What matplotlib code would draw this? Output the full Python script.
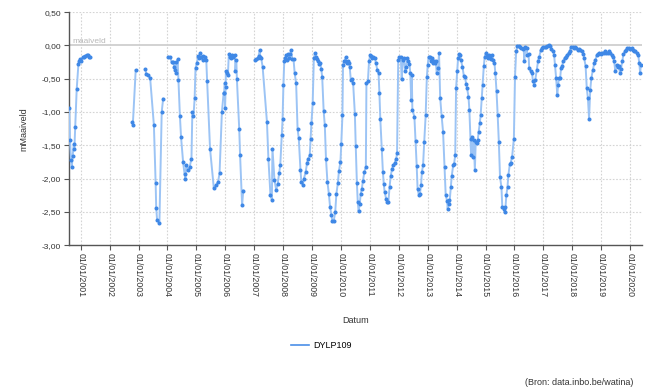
import numpy as np
import pandas as pd
import matplotlib
matplotlib.use("Agg")
import matplotlib.pyplot as plt
from matplotlib.lines import Line2D

plt.rcParams['font.family'] = ['Liberation Sans', 'DejaVu Sans']

series_name = "DYLP109"
source_text = "(Bron: data.inbo.be/watina)"
y_label = "mMaaiveld"
x_label = "Datum"
ref_label = "maaiveld"
tick_years = list(range(2001, 2021))
y_ticks = [0.5, 0.0, -0.5, -1.0, -1.5, -2.0, -2.5, -3.0]

# decimal year, value (m relative to maaiveld); NaN = gap in record
dec_year = [
    2000.60, 2000.63, 2000.66, 2000.69, 2000.72, 2000.76, 2000.78, 2000.81, 2000.86, 2000.92,
    2000.95, 2000.99, 2001.02, 2001.06, 2001.10, 2001.15, 2001.20, 2001.24, 2001.29, 2001.33,
    2002.00,
    2002.78, 2002.80, 2002.90,
    2003.00,
    2003.23, 2003.27, 2003.33, 2003.40, 2003.53, 2003.59, 2003.61, 2003.64, 2003.72, 2003.80, 2003.85,
    2003.95,
    2004.03, 2004.10, 2004.14, 2004.19, 2004.24, 2004.26, 2004.29, 2004.31, 2004.35, 2004.38,
    2004.43, 2004.47, 2004.54, 2004.59, 2004.62, 2004.65, 2004.71, 2004.77, 2004.83, 2004.86,
    2004.90, 2004.94, 2004.97, 2005.01, 2005.06, 2005.09, 2005.13, 2005.17, 2005.21, 2005.24,
    2005.29, 2005.34, 2005.37, 2005.47, 2005.60, 2005.67, 2005.75, 2005.80, 2005.88, 2005.94,
    2005.96, 2005.98, 2005.99, 2006.01, 2006.02, 2006.05, 2006.09, 2006.12, 2006.17, 2006.19,
    2006.24, 2006.28, 2006.33, 2006.35, 2006.38, 2006.40, 2006.48, 2006.51, 2006.58, 2006.62,
    2006.80,
    2007.02, 2007.07, 2007.12, 2007.15, 2007.19, 2007.21, 2007.24, 2007.29, 2007.44, 2007.49,
    2007.56, 2007.61, 2007.63, 2007.70, 2007.76, 2007.81, 2007.86, 2007.90, 2007.95, 2007.98,
    2008.01, 2008.04, 2008.08, 2008.11, 2008.13, 2008.18, 2008.21, 2008.25, 2008.27, 2008.32,
    2008.36, 2008.40, 2008.45, 2008.50, 2008.54, 2008.60, 2008.63, 2008.68, 2008.72, 2008.78,
    2008.83, 2008.87, 2008.92, 2008.95, 2008.98, 2009.02, 2009.06, 2009.10, 2009.14, 2009.17,
    2009.21, 2009.24, 2009.28, 2009.32, 2009.35, 2009.40, 2009.44, 2009.48, 2009.53, 2009.58,
    2009.62, 2009.67, 2009.70, 2009.75, 2009.80, 2009.84, 2009.89, 2009.93, 2009.98, 2010.01,
    2010.05, 2010.07, 2010.11, 2010.14, 2010.16, 2010.20, 2010.23, 2010.27, 2010.30, 2010.34,
    2010.38, 2010.42, 2010.48, 2010.51, 2010.55, 2010.58, 2010.61, 2010.65, 2010.68, 2010.72,
    2010.76, 2010.81, 2010.86, 2010.88, 2010.93, 2010.97, 2011.01, 2011.04, 2011.08, 2011.12,
    2011.17, 2011.21, 2011.26, 2011.30, 2011.33, 2011.36, 2011.41, 2011.45, 2011.48, 2011.51,
    2011.56, 2011.60, 2011.64, 2011.68, 2011.72, 2011.77, 2011.81, 2011.86, 2011.91, 2011.94,
    2011.98, 2012.02, 2012.07, 2012.10, 2012.14, 2012.18, 2012.22, 2012.25, 2012.30, 2012.33,
    2012.37, 2012.40, 2012.43, 2012.45, 2012.47, 2012.54, 2012.58, 2012.62, 2012.65, 2012.69,
    2012.73, 2012.77, 2012.80, 2012.84, 2012.88, 2012.93, 2012.97, 2013.00, 2013.03, 2013.07,
    2013.10, 2013.14, 2013.17, 2013.21, 2013.24, 2013.28, 2013.31, 2013.36, 2013.39, 2013.43,
    2013.48, 2013.53, 2013.58, 2013.62, 2013.67, 2013.69, 2013.72, 2013.75, 2013.80, 2013.83,
    2013.88, 2013.91, 2013.95, 2013.98, 2014.02, 2014.05, 2014.08, 2014.12, 2014.15, 2014.20,
    2014.25, 2014.29, 2014.33, 2014.36, 2014.41, 2014.44, 2014.48, 2014.50, 2014.52, 2014.56,
    2014.59, 2014.63, 2014.66, 2014.70, 2014.73, 2014.76, 2014.80, 2014.83, 2014.87, 2014.90,
    2014.94, 2014.97, 2015.01, 2015.04, 2015.08, 2015.11, 2015.16, 2015.19, 2015.23, 2015.26,
    2015.31, 2015.34, 2015.38, 2015.42, 2015.46, 2015.50, 2015.55, 2015.58, 2015.63, 2015.66,
    2015.69, 2015.72, 2015.76, 2015.79, 2015.84, 2015.87, 2015.92, 2015.98, 2016.02, 2016.06,
    2016.10, 2016.15, 2016.19, 2016.23, 2016.28, 2016.32, 2016.34, 2016.38, 2016.42, 2016.45,
    2016.49, 2016.51, 2016.56, 2016.61, 2016.64, 2016.69, 2016.72, 2016.77, 2016.82, 2016.86,
    2016.91, 2016.95, 2017.00, 2017.05, 2017.09, 2017.14, 2017.18, 2017.23, 2017.28, 2017.32,
    2017.37, 2017.40, 2017.44, 2017.48, 2017.51, 2017.54, 2017.58, 2017.61, 2017.65, 2017.68,
    2017.73, 2017.77, 2017.82, 2017.87, 2017.91, 2017.96, 2018.01, 2018.05, 2018.10, 2018.14,
    2018.19, 2018.24, 2018.28, 2018.33, 2018.38, 2018.41, 2018.46, 2018.50, 2018.54, 2018.58,
    2018.62, 2018.66, 2018.71, 2018.76, 2018.80, 2018.85, 2018.90, 2018.94, 2018.99, 2019.03,
    2019.08, 2019.13, 2019.17, 2019.22, 2019.26, 2019.31, 2019.36, 2019.40, 2019.45, 2019.49,
    2019.53, 2019.57, 2019.61, 2019.65, 2019.68, 2019.73, 2019.77, 2019.82, 2019.87, 2019.91,
    2019.96, 2020.01, 2020.05, 2020.10, 2020.14, 2020.18, 2020.24, 2020.28, 2020.32, 2020.35,
    2020.37,
]
level = [
    -0.94, -1.42, -1.72, -1.83, -1.66, -1.48, -1.55, -1.22, -0.66, -0.28,
    -0.23, -0.21, -0.24, -0.18, -0.17, -0.16, -0.14, -0.15, -0.17, -0.18,
    np.nan,
    -1.15, -1.19, -0.37,
    np.nan,
    -0.36, -0.43, -0.45, -0.49, -1.20, -2.07, -2.44, -2.62, -2.67, -1.00, -0.80,
    np.nan,
    -0.17, -0.18, -0.25, -0.25, -0.32, -0.37, -0.25, -0.42, -0.21, -0.52,
    -1.06, -1.38, -1.75, -1.93, -2.01, -1.80, -1.87, -1.82, -1.70, -1.00,
    -1.06, -0.79, -0.34, -0.27, -0.16, -0.19, -0.11, -0.18, -0.22, -0.16,
    -0.17, -0.22, -0.54, -1.55, -2.14, -2.10, -2.05, -1.91, -1.00, -0.72,
    -0.72, -0.57, -0.94, -0.62, -0.39, -0.42, -0.44, -0.13, -0.17, -0.19,
    -0.14, -0.17, -0.14, -0.38, -0.22, -0.51, -1.25, -1.65, -2.40, -2.18,
    np.nan,
    -0.22, -0.21, -0.19, -0.16, -0.07, -0.17, -0.19, -0.32, -1.15, -1.70,
    -2.24, -2.32, -1.55, -2.02, -2.17, -2.08, -1.92, -1.80, -1.35, -1.11,
    -0.59, -0.23, -0.19, -0.14, -0.22, -0.13, -0.19, -0.13, -0.07, -0.21,
    -0.21, -0.42, -0.57, -1.26, -1.39, -1.87, -2.05, -2.09, -2.00, -1.90,
    -1.76, -1.70, -1.65, -1.41, -1.16, -0.87, -0.19, -0.12, -0.18, -0.21,
    -0.23, -0.28, -0.26, -0.36, -0.48, -0.99, -1.20, -1.70, -2.05, -2.23,
    -2.42, -2.55, -2.64, -2.63, -2.50, -2.23, -2.07, -1.88, -1.75, -1.48,
    -1.05, -0.29, -0.24, -0.23, -0.18, -0.27, -0.24, -0.27, -0.32, -0.52,
    -0.50, -0.57, -1.03, -1.51, -2.07, -2.35, -2.49, -2.38, -2.23, -2.15,
    -2.03, -1.90, -1.82, -0.57, -0.54, -0.24, -0.14, -0.16, -0.19, -0.18,
    -0.19, -0.27, -0.37, -0.42, -0.72, -1.10, -1.55, -1.90, -2.08, -2.20,
    -2.30, -2.35, -2.35, -2.13, -1.96, -1.85, -1.80, -1.76, -1.70, -1.62,
    -0.22, -0.18, -0.17, -0.51, -0.22, -0.19, -0.39, -0.32, -0.19, -0.23,
    -0.28, -0.42, -0.82, -0.44, -0.97, -1.07, -1.43, -1.81, -2.15, -2.24,
    -2.23, -2.10, -1.90, -1.80, -1.45, -1.05, -0.48, -0.29, -0.17, -0.18,
    -0.23, -0.19, -0.27, -0.23, -0.26, -0.24, -0.42, -0.34, -0.12, -0.79,
    -1.06, -1.30, -1.82, -2.24, -2.34, -2.45, -2.32, -2.38, -2.12, -1.96,
    -1.80, -1.78, -1.65, -0.64, -0.39, -0.19, -0.13, -0.14, -0.22, -0.32,
    -0.46, -0.48, -0.58, -0.64, -0.77, -0.97, -1.40, -1.65, -1.37, -1.67,
    -1.42, -1.87, -1.45, -1.47, -1.42, -1.30, -1.17, -1.05, -0.79, -0.59,
    -0.31, -0.17, -0.11, -0.16, -0.19, -0.14, -0.19, -0.21, -0.14, -0.22,
    -0.27, -0.42, -0.69, -1.05, -1.45, -1.97, -2.13, -2.43, -2.45, -2.50,
    -2.43, -2.25, -2.12, -1.95, -1.78, -1.76, -1.67, -1.40, -0.47, -0.09,
    -0.01, -0.01, -0.03, -0.04, -0.06, -0.04, -0.23, -0.03, -0.04, -0.14,
    -0.13, -0.34, -0.38, -0.42, -0.54, -0.59, -0.52, -0.37, -0.23, -0.17,
    -0.07, -0.04, -0.02, -0.03, -0.02, -0.01, 0.01, -0.01, -0.06, -0.08,
    -0.14, -0.29, -0.49, -0.74, -0.59, -0.49, -0.49, -0.34, -0.31, -0.24,
    -0.19, -0.17, -0.14, -0.11, -0.08, -0.02, -0.03, -0.04, -0.03, -0.04,
    -0.07, -0.06, -0.07, -0.08, -0.13, -0.19, -0.31, -0.64, -0.79, -1.10,
    -0.67, -0.49, -0.37, -0.27, -0.22, -0.14, -0.13, -0.11, -0.13, -0.11,
    -0.11, -0.09, -0.11, -0.11, -0.09, -0.11, -0.14, -0.17, -0.24, -0.39,
    -0.29, -0.33, -0.31, -0.41, -0.36, -0.24, -0.13, -0.09, -0.07, -0.04,
    -0.04, -0.06, -0.04, -0.07, -0.08, -0.09, -0.12, -0.14, -0.27, -0.42,
    -0.29,
]
x_start = 2000.59
x_end = 2020.42


def to_date(y):
    yr = int(np.floor(y))
    return pd.Timestamp(year=yr, month=1, day=1) + pd.Timedelta(days=(y - yr) * 365.25)


dates = [to_date(y) for y in dec_year]

fig = plt.figure(figsize=(6.56, 3.91), dpi=100)
ax = fig.add_axes([0.105, 0.373, 0.874, 0.596])

grid_col = "#d4d4d4"
ax.set_ylim(-3.0, 0.5)
ax.set_xlim(to_date(x_start), to_date(x_end))
ax.set_yticks(y_ticks)
ax.set_yticklabels([f"{v:.2f}".replace(".", ",") for v in y_ticks], fontsize=6, color="#333333")
xt = [pd.Timestamp(year=y, month=1, day=1) for y in tick_years]
ax.set_xticks(xt)
ax.set_xticklabels([f"01/01/{y}" for y in tick_years], rotation=270, fontsize=6.3, color="#333333")

for v in y_ticks:
    if v != 0.0:
        ax.axhline(v, color=grid_col, lw=0.8, ls=(0, (1.5, 1.5)), zorder=0)
for t in xt:
    ax.axvline(t, color=grid_col, lw=0.8, ls=(0, (1.5, 1.5)), zorder=0)

ax.axhline(0.0, color="#cfcfcf", lw=1.3, zorder=1)
ax.text(0.006, 0.0, ref_label, transform=ax.get_yaxis_transform(), fontsize=6,
        color="#b8b8b8", va="bottom", ha="left", zorder=2)

ax.plot(dates, level, color="#9cc4f5", lw=1.4, zorder=3, solid_joinstyle="round")
ax.plot(dates, level, ls="none", marker="o", ms=1.9, mfc="#3f88e6", mec="#3f88e6", zorder=4)

for s in ["top", "right"]:
    ax.spines[s].set_visible(False)
for s in ["left", "bottom"]:
    ax.spines[s].set_color("#555555")
    ax.spines[s].set_linewidth(1.0)
ax.tick_params(axis="both", length=3.5, width=0.8, color="#555555", pad=2)

ax.set_ylabel(y_label, fontsize=6.5, color="#333333", labelpad=10)
ax.set_xlabel(x_label, fontsize=6.5, color="#333333", labelpad=14)

h = [Line2D([0], [0], color="#4a8fe8", lw=1.2)]
fig.legend(h, [series_name], loc="center", bbox_to_anchor=(0.49, 0.117), frameon=False,
           fontsize=6.5, handlelength=1.9, handletextpad=0.5)
fig.text(0.965, 0.022, source_text, fontsize=6.5, color="#333333", ha="right", va="center")

fig.savefig("out.png", dpi=100)
